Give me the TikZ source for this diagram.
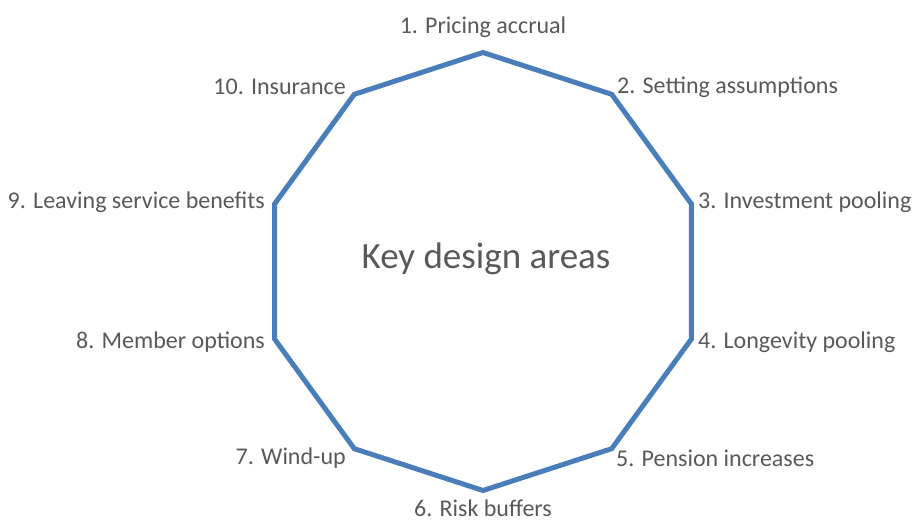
\documentclass[tikz,border=0pt]{standalone}
\usepackage{fontspec}
\setmainfont{Carlito}
\usetikzlibrary{calc}
\definecolor{edgeblue}{HTML}{4A7EBB}
\definecolor{labelgray}{HTML}{595959}
\begin{document}
\begin{tikzpicture}[x=1pt,y=-1pt,
  area/.style={text=labelgray,font=\fontsize{24}{28}\selectfont,inner sep=0pt},
  outline/.style={draw=edgeblue,line width=5pt,line join=miter}]
\useasboundingbox (0,0) rectangle (915,526);
\coordinate (c) at (483,271.5);
% vertices of the decagon, starting at the top and going clockwise
\foreach \i in {1,...,10}{
  \coordinate (v\i) at ($(c)+({90-36*(\i-1)}:{219pt})$);
}
\draw[outline] (v1)--(v2)--(v3)--(v4)--(v5)--(v6)--(v7)--(v8)--(v9)--(v10)--cycle;
\node[text=labelgray,font=\fontsize{37}{44}\selectfont,inner sep=0pt] (title) at (486,259) {Key design areas};
\node[area,anchor=center] (a1) at (483,27) {1. Pricing accrual};
\node[area,anchor=west] (a2) at (617,87) {2. Setting assumptions};
\node[area,anchor=west] (a3) at (698,202) {3. Investment pooling};
\node[area,anchor=west] (a4) at (698,342) {4. Longevity pooling};
\node[area,anchor=west] (a5) at (616,458) {5. Pension increases};
\node[area,anchor=center] (a6) at (483,508) {6. Risk buffers};
\node[area,anchor=east] (a7) at (346,458) {7. Wind-up};
\node[area,anchor=east] (a8) at (265,342) {8. Member options};
\node[area,anchor=east] (a9) at (265,202) {9. Leaving service benefits};
\node[area,anchor=east] (a10) at (346,87) {10. Insurance};
\end{tikzpicture}
\end{document}
